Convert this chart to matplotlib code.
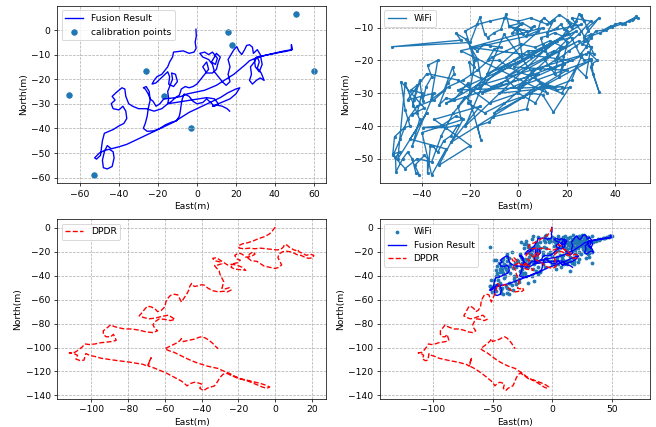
import numpy as np
import matplotlib
matplotlib.use("Agg")
import matplotlib.pyplot as plt

# calibration points (East, North)
calib_points = [(51, 6.5), (60, -16.5), (-65.5, -26.5), (-53, -59), (16, -1),
                (18, -6), (-26, -16.5), (-17, -27), (-3, -40)]

# fused trajectory
fusion_path = [
    (-0.5, 0.3), (-0.3, -2.5), (-0.9, -5), (-0.4, -7.5), (-1.5, -9), (-4, -9.5), (-7, -8.5),
    (-10, -8.8), (-12, -9), (-12.5, -11), (-14, -13), (-15, -15), (-16.5, -16.5), (-18, -18),
    (-20.5, -19), (-22, -20.5), (-23, -22), (-21, -21.5), (-19, -20), (-17, -18.5), (-15, -17),
    (-14, -19), (-14.5, -22), (-12, -23), (-10, -21), (-11, -18), (-13, -17.5), (-12.5, -20),
    (-14, -23), (-15, -25), (-14.5, -28), (-15, -30), (-13, -29), (-11, -27.5),
    (-9, -26.5), (-8, -24), (-6, -23), (-4, -23.5), (-2, -23), (0, -22), (2, -20), (4, -18),
    (6, -16), (5, -13), (3, -15), (5, -17.5), (8, -17.5), (10, -16), (11, -13), (12, -11),
    (10, -9.5), (9, -11), (7.5, -13), (9.5, -14), (10.5, -11.5), (8, -9), (6, -10),
    (4, -9), (1.5, -9.5), (3, -11), (6, -12), (8, -14), (9, -17), (11, -19), (13, -21),
    (15, -22.5), (17, -21), (16, -18), (17, -15), (16, -12), (17.5, -10), (19, -8), (20.5, -6.8),
    (21.5, -8.5), (23, -10), (24.5, -8), (25.5, -6.3), (27, -6), (28.5, -7), (29, -9.5),
    (31, -8), (32.5, -10), (33.5, -14), (32, -17), (30, -15), (29.5, -12),
    (30.8, -11), (29.5, -13), (27.5, -15), (28, -18), (27, -20.5), (28.5, -22), (30.5, -20.5),
    (32.5, -19.5), (34.5, -20.5), (33, -17.5), (31, -15.5), (32, -13), (31, -11), (34, -10.5),
    (38, -9.8), (42, -9.2), (45, -8.8), (48.5, -8.2), (48.5, -6), (49, -8), (45, -8.5),
    (40, -9.4), (35, -10.3), (30, -11.5), (27, -12.5), (25, -14), (22, -16), (19, -18),
    (16, -19.5), (13, -21), (10, -22.5), (7, -23.5), (4, -24.5), (1, -25), (-2, -25.5),
    (-5, -26), (-8, -27), (-11, -27.5), (-14, -27.8), (-17, -28), (-19, -30), (-21, -31),
    (-22.5, -29), (-24, -28), (-25, -26), (-26.5, -24), (-27.5, -23.5), (-26, -23),
    (-24.5, -25), (-24, -28.5), (-25, -32), (-25.5, -35), (-26.5, -38), (-27.5, -40),
    (-25.5, -41.2), (-22, -41), (-19, -40), (-16, -38.5), (-13, -37.5), (-10.5, -37),
    (-9, -35), (-8.5, -33), (-8, -30), (-7.5, -28), (-6.5, -26), (-4, -27), (-2, -29),
    (0, -30), (3, -29.5), (5, -28), (7, -29.5), (9, -31), (11, -30), (9, -28), (5, -27.5),
    (1, -28), (-3, -28.5), (-7, -29), (-11, -29.5), (-15, -30), (-18, -32), (-22, -33),
    (-26, -32), (-30, -32), (-33, -31), (-35, -30), (-36.5, -27), (-37, -24), (-38.5, -23.5),
    (-40, -24.5), (-41.5, -25.5), (-43.5, -27), (-42, -28.5), (-44, -30), (-43, -32),
    (-40, -32.5), (-38, -31), (-36.5, -33), (-36, -36), (-37.5, -38), (-40, -39),
    (-43, -40.5), (-46, -41.5), (-47.5, -42), (-48.5, -45), (-49, -48), (-49.5, -51),
    (-51.5, -52.5), (-52.5, -52), (-50, -50), (-47.5, -49), (-45, -48.5), (-43, -49.5),
    (-42.5, -52), (-43.5, -55.5), (-46, -56.5), (-48, -56), (-48.5, -53), (-47.5, -49.5),
    (-46, -47), (-44, -48.3), (-40, -47.5), (-36, -46.5), (-32, -45), (-28, -43.5),
    (-24, -42), (-20, -40.5), (-16, -39), (-12, -37.5), (-8, -35.5), (-4, -33.5), (0, -32),
    (4, -30.5), (8, -29), (12, -27.5), (16, -25.5), (20, -24), (22, -23.5), (20, -26),
    (17, -28), (14, -29), (11, -30), (8, -31), (10, -30.5), (13, -31), (15.5, -32), (16.8, -33),
]

# raw WiFi fixes
wifi_fixes = [
    (-1, -10), (1, -9), (-2.5, -11.5), (2, -12), (0, -10.5), (3.7, -11), (-4, -9.5), (1.5, -8.5),
    (5, -10), (6.5, -9.5), (3, -12.5), (8, -11), (9.2, -8), (10.6, -7), (13, -8.5), (14.8, -7.5),
    (12, -11.5), (16, -10), (17.5, -9), (19, -10.5), (20.3, -11), (21, -12), (18, -12.5),
    (15, -11.5), (12, -12.5), (9.2, -13), (10, -15), (12, -18), (14.8, -17), (11, -20),
    (13, -22), (15, -24), (17.5, -16), (16, -19), (19, -21), (17, -25), (20.3, -14.5),
    (18, -13), (21.5, -9), (20, -7.5), (22, -10), (24, -8), (25.1, -5.8), (27.2, -8), (26, -6),
    (28.6, -10), (33.4, -7), (29, -11), (27, -13), (30, -12), (28.5, -14), (26.5, -15),
    (29.9, -16), (31.3, -18), (29, -17.5), (32.7, -20), (30.5, -21), (29.9, -22), (33.4, -29.5),
    (31, -24), (30, -19.5), (27.2, -20), (25.8, -18), (28, -16), (30, -13), (32, -11),
    (35, -10.8), (38.2, -9.5), (36.1, -10.8), (40, -9), (42.3, -8.5), (44, -8.8), (45.8, -7.8),
    (47.5, -7.2), (48.8, -6.5), (49.5, -7), (47, -7.6), (43, -8.8), (39, -9.8), (34, -11.5),
    (30, -12.5), (27, -14), (24, -15.5), (21, -17), (18.5, -18.5), (15, -20), (12, -21.5),
    (9, -22.5), (6, -23), (3.7, -25), (2.3, -27), (0.3, -29), (-1.8, -28), (-4.6, -26),
    (-7.3, -27), (-11.4, -28), (-14, -27), (-16, -28.5), (-19.7, -29), (-21.1, -27),
    (-23.9, -29.5), (-26.6, -32), (-30, -31.5), (-32.8, -33.5), (-29.4, -27), (-26.6, -24),
    (-27.3, -22), (-30.8, -29), (-36.3, -32), (-33.5, -20), (-37.7, -21.5), (-36, -25),
    (-38.3, -28), (-39.7, -32.5), (-41, -26), (-43.2, -32), (-43.9, -34), (-42, -27.5),
    (-44.5, -29), (-40, -30), (-42, -36), (-44, -36.5), (-39, -34.5), (-48.7, -26.5),
    (-47, -35), (-45, -40), (-47.3, -40.5), (-51.4, -43.3), (-52.1, -48.5), (-49, -48),
    (-51, -49.5), (-50.8, -54), (-48, -50), (-46, -48), (-44, -50), (-42.5, -54.5),
    (-41.1, -55), (-43, -52), (-39, -49), (-37.7, -50), (-37.7, -54.5), (-36.5, -46),
    (-35.6, -46), (-33.5, -48), (-31, -44.5), (-28, -43), (-25.2, -39.8), (-30, -40.5),
    (-39.7, -40.5), (-32.1, -40), (-26, -37), (-23.9, -37.5), (-25, -34), (-22, -31),
    (-20, -32.5), (-15.6, -44.2), (-17, -40), (-12.1, -38.8), (-10.5, -37.2), (3.4, -34.8),
    (5, -30), (10, -30.5), (14.5, -35.8), (21.2, -28.2), (16, -29), (12, -27.5), (8, -26),
    (4, -24.5), (0, -23.5), (-4, -22), (-8, -20), (-12.8, -20), (-10, -16.5), (-7.3, -16),
    (-12, -15.5), (-14.2, -15), (-17, -17), (-19.7, -16), (-18.3, -22), (-20.4, -20.5),
    (-19.7, -24), (-15.6, -25.5), (-17, -19.5), (-21.8, -13.5), (-25.9, -11.7),
    (-23.9, -13.8), (-52.4, -15.8), (-20, -14.5), (-16, -6.8), (-14, -12), (-12.8, -13),
    (-10, -11.5), (-7.3, -10.5), (-5.2, -5.8), (-3.9, -9.5), (-0.4, -11),
    (2, -20), (20, -12), (-5, -25), (25, -14), (-15, -30), (22, -20), (-20, -16), (10, -10),
    (-18, -28), (28, -18), (-8, -30), (18, -28), (-25, -29), (5, -19), (-13, -24), (24, -11),
    (0, -28), (30, -20), (-10, -36), (8, -24), (-30, -33), (15, -14), (-22, -40), (-6, -12),
    (12, -30), (-24, -17), (26, -9), (-2, -22), (20, -23), (-28, -45), (-16, -34), (-35, -38),
    (-20, -46), (-33, -52), (-23, -38), (-40, -42), (-36, -55), (-30, -47), (-45, -44),
    (-38, -36), (-50, -50), (-47, -27), (-41, -38), (-44, -46), (-35, -30), (-46, -32),
    (-38, -24), (-25, -26), (-12, -33), (0, -30), (7, -33), (11, -28), (18, -30), (24, -22),
    (28, -25), (30, -16), (26, -11), (22, -7), (30, -8), (25, -12), (19, -16), (13, -14),
    (7, -16), (1, -15), (-5, -17), (-11, -19), (-17, -23), (-23, -26), (-29, -28), (-35, -32),
    (-42, -34), (-46, -38), (-49, -44), (-52, -49), (-47, -53), (-42, -50), (-36, -51),
    (-32, -43), (-27, -36), (-20, -30), (-14, -27), (-8, -23), (-2, -20), (4, -17), (11, -17),
    (16, -14), (22, -13), (26, -19), (22, -26), (15, -28), (9, -27), (2, -31), (-6, -33),
    (-14, -36), (-21, -33), (-18, -20), (-22, -11), (-17, -9), (-12, -8), (-6, -7), (0, -8),
    (5, -7), (12, -9), (17, -6), (23, -9),
]

# dead-reckoning (PDR) trajectory
dpdr_path = [
    (0, 0.5), (-1, -1.5), (-2, -3.5), (-3.5, -5.5), (-6, -7.5), (-9, -9), (-12, -11),
    (-15, -12.5), (-18, -13.5), (-20, -15), (-19.5, -17), (-17, -17.5), (-14, -17),
    (-11, -17.5), (-8, -17), (-5, -17.5), (-2, -18), (1, -18.5), (3, -18), (4.5, -16),
    (5, -14), (6.5, -14.5), (7.5, -16), (9, -17.5), (11, -19), (12, -18), (13, -20),
    (15, -21.5), (17, -23), (19, -22), (21, -23), (20.5, -25), (18, -25.5), (16, -24.5),
    (14, -23), (12, -22.5), (10, -21), (8, -20), (6, -19.5), (4, -20), (2, -22), (1.5, -25),
    (2.5, -28), (3.5, -31), (2, -33), (0, -34), (-3, -33), (-6, -32), (-8, -30), (-10, -28),
    (-13, -27.5), (-15, -25), (-14, -22), (-12, -20), (-11, -22), (-13, -24), (-16, -24.5),
    (-18, -22), (-20, -21), (-22, -23), (-21, -26), (-19, -27), (-20, -29), (-23, -30),
    (-24, -33), (-22, -34.5), (-19, -35), (-16, -35.5), (-18, -33), (-21, -31), (-24, -30.5),
    (-26, -31), (-28, -29), (-30, -27), (-32, -25), (-34, -25.5), (-33, -27.5), (-30, -28.5),
    (-29, -30), (-31, -31), (-33, -31.5), (-32, -33.5), (-30.5, -36), (-30, -39), (-29, -42),
    (-28, -45), (-28.5, -48), (-29, -50.5), (-27, -51), (-25, -50), (-24, -52), (-26, -53.5),
    (-28, -53), (-31, -53.5), (-34, -52.5), (-36.5, -50.5), (-38.5, -48), (-40, -47.5),
    (-42, -48.5), (-44, -49), (-45.5, -46.5), (-46.5, -49), (-47, -52), (-48, -55),
    (-49.5, -58.5), (-51, -62), (-52, -59), (-53, -56), (-55, -55.5), (-57, -56.5),
    (-58.5, -59), (-59.5, -62), (-60, -66), (-62, -69), (-64, -70), (-65.5, -67.5),
    (-67.5, -66), (-69.5, -65.5), (-71, -68), (-72.5, -71), (-74, -73.5), (-71.5, -75),
    (-68.5, -76), (-65.5, -75.5), (-63, -74.5), (-60, -73.5), (-58, -73), (-56, -75),
    (-54.5, -76.5), (-57, -77.5), (-60, -76.5), (-63, -76), (-65, -78), (-66.5, -81),
    (-65.5, -84), (-64, -86), (-66.5, -87.5), (-70, -87), (-74, -85.5), (-78, -84.5),
    (-82, -84.5), (-85, -83.5), (-87.5, -82.5), (-89.5, -81), (-91, -83), (-93.5, -86),
    (-93.5, -89), (-92, -91), (-89.5, -91), (-88, -89), (-87, -92), (-86.5, -94), (-89, -95),
    (-92, -95.5), (-95, -96), (-98, -97), (-101, -97.5), (-103.5, -97), (-105, -99.5),
    (-107, -102), (-109, -104), (-112, -104.5), (-109.5, -105), (-107.5, -106.5),
    (-108.5, -109.5), (-106, -111), (-104, -110.5), (-103.5, -107.5), (-103, -105),
    (-101, -106.5), (-98, -107.5), (-94.5, -109), (-90, -110), (-85.5, -111), (-80, -112),
    (-76, -113), (-72, -114), (-69.5, -115.5), (-68.5, -112), (-67.5, -108.5), (-68.5, -112),
    (-69, -115.5), (-66, -117), (-62, -119.5), (-59, -121.5), (-56.5, -123.5), (-53.5, -126),
    (-51, -128), (-49, -130.5), (-48, -132), (-46, -130), (-44, -129), (-42, -129.5),
    (-40, -130.5), (-41, -134), (-39, -136), (-37, -134), (-35, -133), (-33, -132),
    (-32, -130), (-31, -127.5), (-30, -125), (-28.5, -122.5), (-27, -121.5), (-25.5, -122),
    (-24, -123.5), (-22, -124.5), (-20, -126), (-16, -127), (-12, -128.5), (-8, -130),
    (-5, -131.5), (-3, -133), (-4.5, -134), (-7, -133), (-10, -131), (-14, -128.5),
    (-18, -126.5), (-22, -124), (-25, -121.5), (-27.5, -120), (-29, -119), (-31, -117.5),
    (-34, -116.5), (-37, -115.5), (-40, -114), (-43, -112.5), (-47, -110), (-51, -107),
    (-55, -104), (-58, -102.5), (-60, -101), (-58, -99.5), (-56, -98), (-54, -96.5),
    (-52, -94.5), (-51, -92.5), (-50, -95), (-47, -94), (-44, -93), (-41.5, -91.5),
    (-40, -91), (-38, -92), (-36, -94), (-34, -96.5), (-32.5, -99), (-31, -101),
]

fx, fy = np.array(fusion_path).T
wx, wy = np.array(wifi_fixes).T
dx, dy = np.array(dpdr_path).T
cx, cy = np.array(calib_points).T

fig = plt.figure(figsize=(10, 6.51), dpi=65.6)
ax1 = fig.add_axes([0.087, 0.571, 0.41, 0.415])
ax2 = fig.add_axes([0.579, 0.571, 0.412, 0.415])
ax3 = fig.add_axes([0.087, 0.066, 0.41, 0.421])
ax4 = fig.add_axes([0.579, 0.066, 0.412, 0.421])

ax1.plot(fx, fy, color='b', label='Fusion Result')
ax1.scatter(cx, cy, color='C0', label='calibration points')

ax2.plot(wx, wy, color='C0', label='WiFi')
ax2.plot(wx, wy, '.', color='C0', markersize=5)

ax3.plot(dx, dy, 'r--', label='DPDR')

ax4.scatter(wx, wy, s=10, color='C0', label='WiFi')
ax4.plot(fx, fy, color='b', label='Fusion Result')
ax4.plot(dx, dy, 'r--', label='DPDR')
ax4.set_aspect('equal', adjustable='datalim')

for ax in (ax1, ax2, ax3, ax4):
    ax.grid(True, linestyle='--')
    ax.set_xlabel('East(m)')
    ax.set_ylabel('North(m)')
    ax.legend(loc='upper left')

fig.savefig('out.png', dpi=65.6)
